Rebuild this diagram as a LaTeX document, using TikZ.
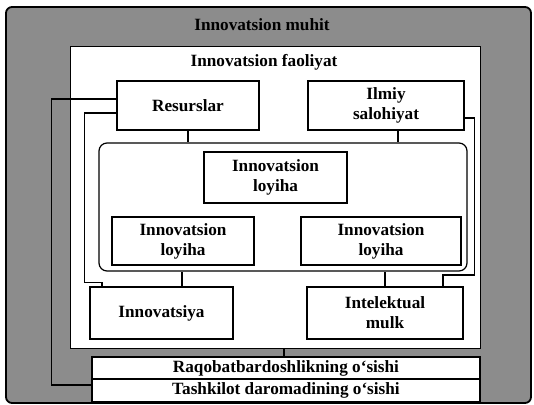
\documentclass[tikz,border=0pt]{standalone}
\usepackage{fontspec}
\setmainfont{Liberation Serif}
\definecolor{bggray}{HTML}{8C8C8C}
\begin{document}
\begin{tikzpicture}[x=1pt,y=-1pt,
  txt/.style={font=\fontsize{17.2}{20}\selectfont\bfseries, align=center, inner sep=0pt},
  box/.style={txt, draw=black, line width=1.2pt, fill=white, rectangle},
  conn/.style={draw=black, line width=1.1pt},
  feed/.style={draw=black, line width=1.8pt}]
\useasboundingbox (0,0) rectangle (534,404);
% outer environment
\node[draw=black, line width=1.8pt, fill=bggray, rounded corners=6pt, minimum width=525pt, minimum height=396pt, inner sep=0pt] (env) at (268.5,205) {};
\node[txt] (envt) at (262,25) {Innovatsion muhit};
% activity box
\node[draw=black, line width=0.9pt, fill=white, minimum width=410pt, minimum height=302pt, inner sep=0pt] (act) at (275,197) {};
\node[txt] (actt) at (264,62) {Innovatsion faoliyat};
% top boxes
\node[box, minimum width=142pt, minimum height=49pt] (res) at (188,105.5) {Resurslar};
\node[box, minimum width=156pt, minimum height=49pt] (ilm) at (386,105.5) {Ilmiy\\salohiyat};
% project group
\node[draw=black, line width=1.2pt, rounded corners=8pt, minimum width=368pt, minimum height=128pt, inner sep=0pt] (rbox) at (283,207) {};
\node[box, minimum width=143pt, minimum height=51pt] (lt) at (275.5,177.5) {Innovatsion\\loyiha};
\node[box, minimum width=142pt, minimum height=48pt] (ll) at (183,241) {Innovatsion\\loyiha};
\node[box, minimum width=160pt, minimum height=48pt] (lr) at (381,241) {Innovatsion\\loyiha};
% bottom boxes
\node[box, minimum width=143pt, minimum height=52pt] (inn) at (161.5,313) {Innovatsiya};
\node[box, minimum width=156pt, minimum height=52pt] (int) at (385,313) {Intelektual\\mulk};
% result bars
\node[box, minimum width=388pt, minimum height=22pt] (raq) at (286,368) {Raqobatbardoshlikning o‘sishi};
\node[box, minimum width=388pt, minimum height=23pt] (tas) at (286,390.5) {Tashkilot daromadining o‘sishi};
% connectors
\draw[conn] (res.south) -- (res.south |- rbox.north);
\draw[conn] ([xshift=12pt]ilm.south) -- ([xshift=12pt]ilm.south |- rbox.north);
\draw[conn] ([xshift=20.5pt]inn.north) -- ([xshift=20.5pt]inn.north |- rbox.south);
\draw[conn] (int.north) -- (int.north |- rbox.south);
\draw[conn] ([yshift=-7.5pt]res.west) -| ([xshift=-32pt,yshift=-7.5pt]res.west |- 0,275) -| ([xshift=-59.5pt]inn.north);
\draw[conn] ([yshift=-12.5pt]ilm.east) -| ([xshift=10pt]ilm.east |- 0,275) -| ([xshift=58pt]int.north);
\draw[conn] ([xshift=9pt]act.south) -- ([xshift=9pt]act.south |- raq.north);
\draw[feed] ([yshift=5.5pt]tas.west) -| ([xshift=-65pt,yshift=6.5pt]res.west) -- ([yshift=6.5pt]res.west);
\end{tikzpicture}
\end{document}
